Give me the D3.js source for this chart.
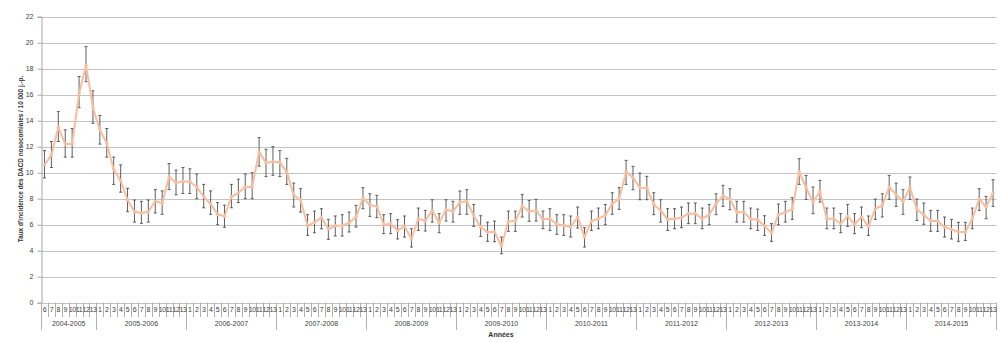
<!DOCTYPE html>
<html>
<head>
<meta charset="utf-8">
<script src="https://d3js.org/d3.v7.min.js"></script>
<style>
  body { margin: 0; background: #fff; }
  svg { font-family: "Liberation Sans", "Open Sans", Arial, sans-serif; }
  .lbl { fill: #404040; font-size: 7px; }
</style>
</head>
<body>
<svg></svg>
<script>
// seasons and their periods (first season starts at period 6)
const seasons = ['2004-2005', '2005-2006', '2006-2007', '2007-2008', '2008-2009', '2009-2010',
                 '2010-2011', '2011-2012', '2012-2013', '2013-2014', '2014-2015']
const firstPeriods = [6, 7, 8, 9, 10, 11, 12, 13]
const periods = [1, 2, 3, 4, 5, 6, 7, 8, 9, 10, 11, 12, 13]
const yTicks = [0, 2, 4, 6, 8, 10, 12, 14, 16, 18, 20, 22]

// incidence rate per 10 000 patient-days, one row per season
const rate = [
  10.6, 11.35, 13.5, 12.2, 12.2, 16.1, 18.25, 15.0,
  13.3, 12.25, 10.25, 9.4, 7.9, 7.0, 6.9, 7.0, 7.8, 7.65, 9.7, 9.2, 9.35,
  9.3, 8.9, 8.15, 7.6, 6.8, 6.65, 8.15, 8.45, 8.9, 8.9, 11.6, 10.75, 10.85,
  10.8, 10.05, 8.26, 7.9, 5.92, 6.18, 6.54, 5.67, 5.92, 5.92, 6.15, 6.59, 8.05,
  7.51, 7.41, 6.0, 6.08, 5.56, 5.87, 4.92, 6.46, 6.28, 7.1, 6.13, 7.15, 7.03,
  7.72, 7.8, 6.69, 5.82, 5.41, 5.46, 4.36, 6.26, 6.26, 7.44, 7.03, 7.1, 6.41,
  6.46, 6.03, 5.95, 5.82, 6.59, 5.05, 6.28, 6.46, 6.72, 7.62, 7.97, 10.05, 9.62,
  8.85, 8.82, 7.56, 7.1, 6.41, 6.46, 6.54, 6.85, 6.85, 6.46, 6.77, 7.62, 8.21,
  7.97, 6.95, 6.97, 6.44, 6.38, 5.9, 5.36, 6.77, 6.97, 7.18, 10.08, 8.85, 7.74,
  8.56, 6.46, 6.46, 6.08, 6.64, 6.03, 6.59, 5.87, 7.23, 7.46, 8.9, 8.31, 7.79,
  8.85, 7.18, 6.77, 6.28, 6.28, 5.82, 5.64, 5.44, 5.44, 6.46, 7.97, 7.36, 8.44
]
const upper = [
  11.7, 12.4, 14.7, 13.3, 13.4, 17.4, 19.7, 16.3,
  14.4, 13.4, 11.2, 10.6, 8.8, 7.9, 7.8, 7.9, 8.7, 8.6, 10.7, 10.2, 10.4,
  10.3, 9.9, 9.1, 8.6, 7.7, 7.5, 9.1, 9.5, 9.9, 10.0, 12.7, 11.8, 12.0,
  11.7, 11.1, 9.2, 8.77, 6.77, 7.05, 7.23, 6.41, 6.67, 6.77, 6.97, 7.49, 8.85,
  8.38, 8.26, 6.77, 6.85, 6.38, 6.67, 5.69, 7.28, 7.1, 7.92, 6.85, 7.92, 7.8,
  8.59, 8.69, 7.56, 6.69, 6.2, 6.28, 5.05, 7.05, 7.05, 8.33, 7.87, 7.95, 7.05,
  7.23, 6.77, 6.77, 6.67, 7.36, 5.77, 7.05, 7.28, 7.56, 8.46, 8.85, 10.95, 10.49,
  9.97, 9.72, 8.46, 7.92, 7.23, 7.23, 7.36, 7.67, 7.67, 7.28, 7.56, 8.38, 9.03,
  8.77, 7.8, 7.8, 7.28, 7.2, 6.69, 6.08, 7.59, 7.8, 8.08, 11.08, 9.79, 8.9,
  9.41, 7.28, 7.28, 6.85, 7.56, 6.85, 7.36, 6.67, 7.97, 8.38, 9.79, 9.2, 8.69,
  9.67, 7.97, 7.67, 7.1, 7.1, 6.59, 6.41, 6.18, 6.18, 7.28, 8.77, 8.18, 9.46
]
const lower = [
  9.6, 10.4, 12.4, 11.2, 11.2, 15.0, 17.0, 13.8,
  12.2, 11.2, 9.1, 8.5, 7.0, 6.2, 6.1, 6.2, 6.9, 6.8, 8.7, 8.3, 8.4,
  8.4, 8.0, 7.3, 6.8, 6.0, 5.8, 7.3, 7.7, 8.0, 8.0, 10.5, 9.7, 9.8,
  9.7, 9.1, 7.36, 6.97, 5.18, 5.38, 5.69, 4.87, 5.13, 5.13, 5.44, 5.82, 7.23,
  6.64, 6.54, 5.31, 5.31, 4.9, 5.05, 4.28, 5.56, 5.51, 6.2, 5.38, 6.28, 6.2,
  6.8, 6.8, 5.87, 5.1, 4.72, 4.69, 3.77, 5.49, 5.49, 6.59, 6.26, 6.28, 5.69,
  5.56, 5.26, 5.18, 5.05, 5.74, 4.28, 5.56, 5.69, 6.0, 6.8, 7.18, 9.1, 8.69,
  7.92, 7.92, 6.77, 6.2, 5.56, 5.69, 5.77, 6.08, 6.08, 5.69, 6.0, 6.77, 7.41,
  7.15, 6.2, 6.2, 5.69, 5.56, 5.18, 4.72, 6.0, 6.2, 6.41, 9.1, 7.95, 6.85,
  7.74, 5.69, 5.69, 5.38, 5.87, 5.31, 5.77, 5.18, 6.41, 6.59, 7.95, 7.41, 6.8,
  7.95, 6.33, 6.03, 5.49, 5.49, 5.05, 4.9, 4.72, 4.79, 5.69, 7.1, 6.46, 7.41
]

const width = 1000, height = 343
const plotLeft = 41, plotRight = 996.5, plotTop = 16.7, plotBottom = 302.7
const lineColor = '#f9bd9f'

// one entry per category (season, period)
const cats = []
seasons.forEach((s, si) => {
  (si === 0 ? firstPeriods : periods).forEach(p => cats.push({ season: s, period: p }))
})
const data = cats.map((c, i) => ({ ...c, i: i, v: rate[i], hi: upper[i], lo: lower[i] }))

const svg = d3.select('svg').attr('width', width).attr('height', height)

const x = d3.scaleBand().domain(d3.range(cats.length)).range([plotLeft, plotRight]).padding(0)
const y = d3.scaleLinear().domain([0, 22]).range([plotBottom, plotTop])
const cx = i => x(i) + x.bandwidth() / 2

// gridlines
svg.append('g').selectAll('line')
  .data(yTicks)
  .enter().append('line')
  .attr('x1', plotLeft).attr('x2', plotRight)
  .attr('y1', d => Math.round(y(d)) + 0.5).attr('y2', d => Math.round(y(d)) + 0.5)
  .style('stroke', '#c4c4c4')
  .style('stroke-width', 1)

// y axis
const yAxis = svg.append('g')
  .attr('transform', 'translate(' + (plotLeft + 0.5) + ',0)')
  .call(d3.axisLeft(y).tickValues(yTicks).tickSize(4).tickPadding(4))
yAxis.select('.domain').style('stroke', '#a6a6a6')
yAxis.selectAll('.tick line').style('stroke', '#a6a6a6')
yAxis.selectAll('text').attr('class', 'lbl').style('font-size', '7px')

// x axis: period labels with separators
const xg = svg.append('g')
xg.selectAll('line.sep')
  .data(cats)
  .enter().append('line')
  .attr('class', 'sep')
  .attr('x1', (d, i) => Math.round(x(i)) + 0.5).attr('x2', (d, i) => Math.round(x(i)) + 0.5)
  .attr('y1', plotBottom)
  .attr('y2', (d, i) => i === 0 || d.period === 1 ? 330 : 317)
  .style('stroke', '#b0b0b0')
xg.append('line')
  .attr('x1', plotRight).attr('x2', plotRight).attr('y1', plotBottom).attr('y2', 330)
  .style('stroke', '#b0b0b0')
xg.selectAll('text.per')
  .data(cats)
  .enter().append('text')
  .attr('class', 'lbl per')
  .attr('x', (d, i) => cx(i))
  .attr('y', 312)
  .attr('text-anchor', 'middle')
  .style('letter-spacing', '-0.4px')
  .text(d => d.period)

// season labels
xg.selectAll('text.season')
  .data(seasons)
  .enter().append('text')
  .attr('class', 'lbl season')
  .attr('x', s => {
    const idx = data.filter(d => d.season === s).map(d => d.i)
    return (x(d3.min(idx)) + x(d3.max(idx)) + x.bandwidth()) / 2
  })
  .attr('y', 326)
  .attr('text-anchor', 'middle')
  .text(s => s)

// axis titles
svg.append('text')
  .attr('x', 501).attr('y', 337)
  .attr('text-anchor', 'middle')
  .style('font-size', '7px').style('font-weight', 'bold').style('fill', '#333')
  .text('Années')
svg.append('text')
  .attr('transform', 'translate(23,' + 159 + ')rotate(-90)')
  .attr('text-anchor', 'middle')
  .style('font-size', '6.4px').style('font-weight', 'bold').style('fill', '#333')
  .text("Taux d'incidence des DACD nosocomiales  / 10 000 j.-p.")

// error bars (drawn under the line)
const eb = svg.append('g').selectAll('g')
  .data(data)
  .enter().append('g')
  .style('stroke', '#4d4d4d')
  .style('stroke-width', 0.9)
eb.append('line')
  .attr('x1', d => cx(d.i)).attr('x2', d => cx(d.i))
  .attr('y1', d => y(d.hi)).attr('y2', d => y(d.lo))
eb.append('line')
  .attr('x1', d => cx(d.i) - 1.5).attr('x2', d => cx(d.i) + 1.5)
  .attr('y1', d => y(d.hi)).attr('y2', d => y(d.hi))
eb.append('line')
  .attr('x1', d => cx(d.i) - 1.5).attr('x2', d => cx(d.i) + 1.5)
  .attr('y1', d => y(d.lo)).attr('y2', d => y(d.lo))

// line and markers
const line = d3.line().x(d => cx(d.i)).y(d => y(d.v))
svg.append('path')
  .datum(data)
  .attr('d', line)
  .style('fill', 'none')
  .style('stroke', lineColor)
  .style('stroke-width', 2)
  .style('stroke-linejoin', 'round')

svg.append('g').selectAll('circle')
  .data(data)
  .enter().append('circle')
  .attr('cx', d => cx(d.i)).attr('cy', d => y(d.v)).attr('r', 1.7)
  .style('fill', lineColor)
</script>
</body>
</html>
